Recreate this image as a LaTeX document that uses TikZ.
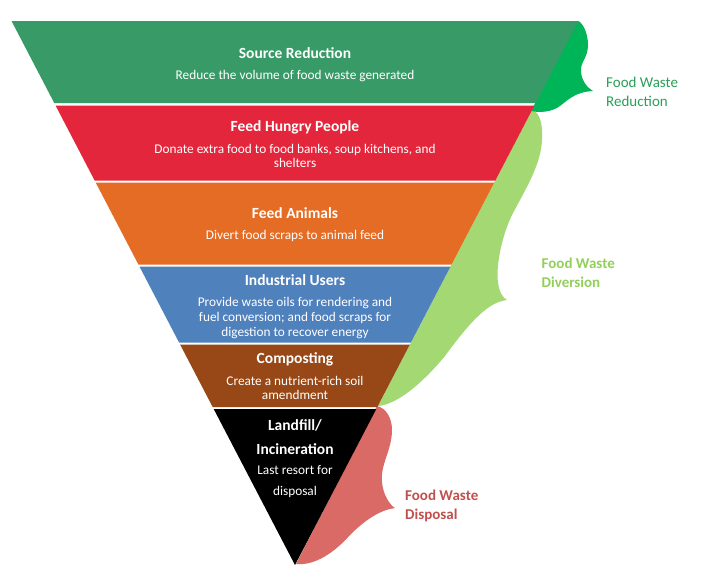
\documentclass[tikz,border=0pt]{standalone}
\usepackage{fontspec}
\setmainfont{Carlito}
\usepackage{tikz}
\usetikzlibrary{positioning}

\definecolor{bandgreen}{RGB}{55,154,103}
\definecolor{bandred}{RGB}{227,38,59}
\definecolor{bandorange}{RGB}{228,108,36}
\definecolor{bandblue}{RGB}{79,129,189}
\definecolor{bandbrown}{RGB}{151,72,22}
\definecolor{bracegreen}{RGB}{0,181,88}
\definecolor{bracelight}{RGB}{164,216,115}
\definecolor{bracered}{RGB}{217,106,102}
\definecolor{labelgreen}{RGB}{40,160,88}
\definecolor{labellight}{RGB}{146,207,90}
\definecolor{labelred}{RGB}{192,80,77}

\begin{document}
\begin{tikzpicture}[x=1pt, y=-1pt,
      every node/.style = {inner sep=0pt, text=white, align=center},
      title/.style = {font=\fontsize{15.5}{19}\selectfont\bfseries},
      desc/.style = {font=\fontsize{13.3}{14.6}\selectfont},
      side/.style = {font=\fontsize{15}{18.5}\selectfont\bfseries, align=left, anchor=west}]

    \useasboundingbox (0,0) rectangle (718,579);

    \fill[bracelight] (532,110) .. controls (540,112) and (543,125) .. (542,140)
      .. controls (541,165) and (525,190) .. (512,215)
      .. controls (500,240) and (496,270) .. (498,282)
      .. controls (499,292) and (503,298) .. (507,300)
      .. controls (488,302) and (470,322) .. (445,356)
      .. controls (415,392) and (392,405) .. (378,406) -- cycle;
    \fill[bracegreen] (578,21) .. controls (582,22) and (588,32) .. (588,45)
      .. controls (588,58) and (580,62) .. (581,72)
      .. controls (582,82) and (588,88) .. (593,91)
      .. controls (575,92) and (568,100) .. (560,106)
      .. controls (552,112) and (540,113) .. (531,111) -- cycle;
    \fill[bracered] (377,406) .. controls (386,408) and (392,418) .. (392,430)
      .. controls (392,450) and (380,465) .. (382,482)
      .. controls (383,495) and (390,505) .. (395,508)
      .. controls (380,510) and (365,520) .. (350,535)
      .. controls (335,552) and (315,566) .. (296,564) -- cycle;

    \foreach \ya/\yb/\col in {21/103/bandgreen, 105.5/180.5/bandred, 182.5/264.5/bandorange,
        266.5/342.5/bandblue, 344.5/407/bandbrown, 409/565/black} {
      \pgfmathsetmacro\wa{0.5211*(565-\ya)}
      \pgfmathsetmacro\wb{0.5211*(565-\yb)}
      \fill[\col] (295-\wa,\ya) -- (295+\wa,\ya) -- (295+\wb,\yb) -- (295-\wb,\yb) -- cycle;
    }

    \node[title] (source) at (295,53) {Source Reduction};
    \node[desc] (source-d) at (295,76) {Reduce the volume of food waste generated};
    \node[title] (hungry) at (295,127) {Feed Hungry People};
    \node[desc] (hungry-d) at (295,156) {Donate extra food to food banks, soup kitchens, and\\ shelters};
    \node[title] (animals) at (295,213) {Feed Animals};
    \node[desc] (animals-d) at (295,236) {Divert food scraps to animal feed};
    \node[title] (industrial) at (295,280) {Industrial Users};
    \node[desc] (industrial-d) at (295,318) {Provide waste oils for rendering and\\ fuel conversion; and food scraps for\\ digestion to recover energy};
    \node[title] (compost) at (295,359) {Composting};
    \node[desc] (compost-d) at (295,388) {Create a nutrient-rich soil\\ amendment};
    \node[title, font=\fontsize{15.5}{24.3}\selectfont\bfseries] (landfill) at (295,437) {Landfill/\\ Incineration};
    \node[desc, font=\fontsize{13.3}{21}\selectfont] (landfill-d) at (295,482) {Last resort for\\ disposal};

    \node[side, text=labelgreen, font=\fontsize{15}{19}\selectfont] (reduction) at (606,92) {Food Waste\\ Reduction};
    \node[side, text=labellight] (diversion) at (541.5,273) {Food Waste\\ Diversion};
    \node[side, text=labelred] (disposal) at (405,506) {Food Waste\\ Disposal};
\end{tikzpicture}
\end{document}
